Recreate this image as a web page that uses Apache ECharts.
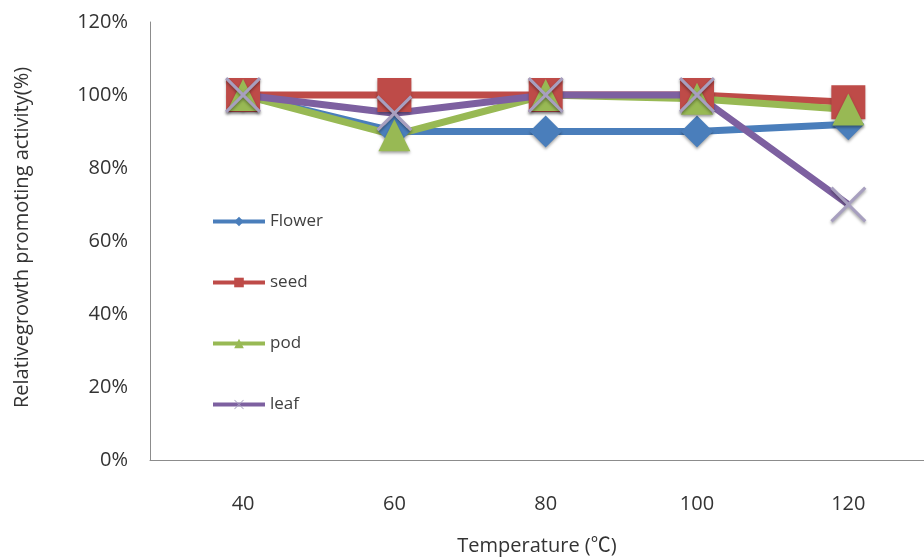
<!DOCTYPE html>
<html>
<head>
<meta charset="utf-8">
<script src="https://cdn.jsdelivr.net/npm/echarts@6/dist/echarts.min.js"></script>
<style>
  html, body { margin: 0; padding: 0; background: #fff; }
  #chart { width: 924px; height: 559px; }
</style>
</head>
<body>
<div id="chart"></div>
<script>
// temperature (°C) and relative activity (%)
var temps = [40, 60, 80, 100, 120];
var tickLabels = [40, 60, 80, 100, 120];
var flower = [100, 90, 90, 90, 92];
var seed = [100, 100, 100, 100, 98];
var pod = [100, 89, 100, 99, 96];
var leaf = [100, 95, 100, 100, 70];

// thin "x" marker
var crossPath = 'path://M0,0.6 L0.6,0 L5,4.4 L9.4,0 L10,0.6 L5.6,5 L10,9.4 L9.4,10 L5,5.6 L0.6,10 L0,9.4 L4.4,5 Z';
var fontFam = '"Open Sans", "Noto Sans CJK SC", sans-serif';

function pairs(vals) {
    var out = [];
    for (var i = 0; i < temps.length; i++) {
        out.push([temps[i], vals[i]]);
    }
    return out;
}

function mkSeries(name, vals, color, symbol, size, symColor) {
    return {
        name: name,
        type: 'line',
        data: pairs(vals),
        symbol: symbol,
        symbolSize: size,
        lineStyle: { color: color, width: 7 },
        itemStyle: {
            color: symColor || color,
            shadowBlur: 3,
            shadowOffsetY: 2,
            shadowColor: 'rgba(0,0,0,0.35)'
        },
        emphasis: { disabled: true }
    };
}

var myChart = echarts.init(document.getElementById('chart'));
var option = {
    backgroundColor: '#ffffff',
    animation: false,
    textStyle: { fontFamily: fontFam },
    grid: { left: 150, right: 0, top: 22, bottom: 99, containLabel: false, outerBoundsMode: 'none' },
    legend: {
        orient: 'vertical',
        left: 206,
        top: 208,
        itemWidth: 52,
        itemHeight: 12,
        itemGap: 44,
        lineStyle: { width: 4 },
        textStyle: { fontSize: 17, color: '#404040', fontFamily: fontFam },
        data: ['Flower', 'seed', 'pod', 'leaf']
    },
    xAxis: {
        type: 'value',
        min: 27.7,
        max: 130,
        name: 'Temperature (℃)',
        nameLocation: 'middle',
        nameGap: 76,
        nameTextStyle: { fontSize: 20, color: '#333' },
        axisLine: { show: true, onZero: false, lineStyle: { color: '#8c8c8c', width: 1 } },
        axisTick: { show: false },
        splitLine: { show: false },
        axisLabel: {
            customValues: tickLabels,
            margin: 34,
            fontSize: 20,
            color: '#333'
        }
    },
    yAxis: {
        type: 'value',
        min: 0,
        max: 120,
        interval: 20,
        name: 'Relativegrowth promoting activity(%)',
        nameLocation: 'middle',
        nameGap: 118,
        nameTextStyle: { fontSize: 20, color: '#333', padding: [0, 0, 0, 7] },
        axisLine: { show: true, lineStyle: { color: '#8c8c8c', width: 1 } },
        axisTick: { show: false },
        splitLine: { show: false },
        axisLabel: {
            formatter: '{value}%',
            margin: 22,
            fontSize: 20,
            color: '#333'
        }
    },
    series: [
        mkSeries('Flower', flower, '#4a7ebb', 'diamond', 32),
        mkSeries('seed', seed, '#be4b48', 'rect', 34),
        mkSeries('pod', pod, '#98b954', 'triangle', 32),
        mkSeries('leaf', leaf, '#7d60a0', crossPath, 36, '#a79fbf')
    ]
};
myChart.setOption(option);
</script>
</body>
</html>
